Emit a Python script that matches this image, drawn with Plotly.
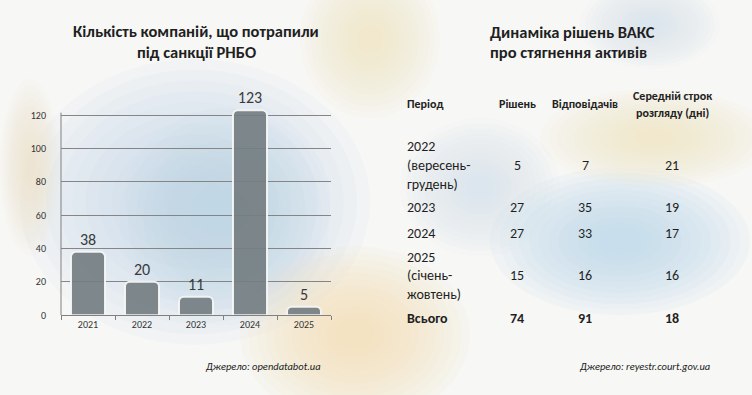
import plotly.graph_objects as go

# ---- data ----
years = ["2021", "2022", "2023", "2024", "2025"]
companies = [38, 20, 11, 123, 5]
y_tick_values = [0, 20, 40, 60, 80, 100, 120]

left_title = ["Кількість компаній, що потрапили", "під санкції РНБО"]
right_title = ["Динаміка рішень ВАКС", "про стягнення активів"]
left_source = "Джерело: opendatabot.ua"
right_source = "Джерело: reyestr.court.gov.ua"

table_headers = ["Період", "Рішень", "Відповідачів", "Середній строк<br>розгляду (дні)"]
table_periods = ["2022<br>(вересень-<br>грудень)", "2023", "2024", "2025<br>(січень-<br>жовтень)", "Всього"]
decisions = [5, 27, 27, 15, 74]
respondents = [7, 35, 33, 16, 91]
avg_days = [21, 19, 17, 16, 18]

# ---- layout helpers ----
W, H = 752, 395
FONT = "Carlito, Lato, 'Noto Sans', sans-serif"


def px(x):
    return x / W


def py(y):
    return 1 - y / H


fig = go.Figure()

fig.add_trace(go.Bar(
    x=years, y=companies,
    text=[str(v) for v in companies], textposition="outside",
    textfont=dict(size=16, color="#3a3a3a", family=FONT),
    marker=dict(color="rgba(116,126,130,0.92)",
                line=dict(color="rgba(245,245,245,0.95)", width=2),
                cornerradius=5),
    cliponaxis=False, hoverinfo="skip",
))

# y-range so that 0 -> 320px and 120 -> 117px
unit = (320 - 117) / 120
top_val = 140
top_px = 320 - top_val * unit
axis_top = 121.5

fig.update_layout(
    width=W, height=H,
    margin=dict(l=0, r=0, t=0, b=0),
    paper_bgcolor="#f7f7f5",
    plot_bgcolor="rgba(0,0,0,0)",
    showlegend=False,
    bargap=0.37,
    font=dict(family=FONT, color="#333333"),
    xaxis=dict(domain=[px(61), px(331)], showline=True, linecolor="#808080", linewidth=1,
               ticks="outside", tickson="boundaries", ticklen=4, tickcolor="#808080",
               tickfont=dict(size=10, color="#333333"), showgrid=False, fixedrange=True),
    yaxis=dict(domain=[py(320), py(top_px)], range=[0, top_val], tickvals=y_tick_values,
               showline=False,
               showgrid=True, gridcolor="#858585", gridwidth=1, zeroline=False,
               tickfont=dict(size=10, color="#333333"), ticklabelstandoff=14, fixedrange=True),
)

# y axis line (stops just above the 120 gridline)
fig.add_shape(type="line", xref="x domain", yref="y", x0=0, x1=0, y0=0, y1=axis_top,
              line=dict(color="#808080", width=1))

# soft background patches (blurred flag-like backdrop), built from stacked faint ellipses
patches = [
    (20, 60, 370, 350, (192, 216, 238), 0.10),
    (120, 110, 330, 330, (186, 210, 234), 0.075),
    (490, 170, 750, 320, (190, 214, 238), 0.10),
    (400, 120, 560, 260, (200, 216, 234), 0.06),
    (580, -20, 720, 70, (200, 218, 238), 0.06),
    (240, 250, 470, 430, (246, 226, 170), 0.085),
    (300, -40, 440, 120, (244, 226, 180), 0.07),
    (540, 90, 770, 190, (246, 228, 178), 0.07),
    (0, 80, 60, 260, (244, 228, 180), 0.06),
]
for x0, y0, x1, y1, (r, g, b), a in patches:
    cx, cy = (x0 + x1) / 2, (y0 + y1) / 2
    hw, hh = (x1 - x0) / 2, (y1 - y0) / 2
    for k in range(12):
        s = 1 - k * 0.075
        fig.add_shape(type="circle", xref="paper", yref="paper",
                      x0=px(cx - hw * s), x1=px(cx + hw * s),
                      y0=py(cy + hh * s), y1=py(cy - hh * s),
                      fillcolor=f"rgba({r},{g},{b},{a})", line=dict(width=0), layer="below")

# titles
for j, line in enumerate(left_title):
    fig.add_annotation(text="<b>" + line + "</b>", xref="paper", yref="paper",
                       x=px(196), y=py(31 + 22 * j), xanchor="center", yanchor="middle",
                       showarrow=False, font=dict(size=16.5, color="#1f1f1f", family=FONT))
for j, line in enumerate(right_title):
    fig.add_annotation(text="<b>" + line + "</b>", xref="paper", yref="paper",
                       x=px(488), y=py(32 + 21 * j), xanchor="left", yanchor="middle",
                       showarrow=False, font=dict(size=16.5, color="#1f1f1f", family=FONT))

# sources
fig.add_annotation(text="<i>" + left_source + "</i>", xref="paper", yref="paper",
                   x=px(323), y=py(372), xanchor="right", yanchor="middle", showarrow=False,
                   font=dict(size=10.5, color="#222222", family=FONT))
fig.add_annotation(text="<i>" + right_source + "</i>", xref="paper", yref="paper",
                   x=px(712), y=py(372), xanchor="right", yanchor="middle", showarrow=False,
                   font=dict(size=10.5, color="#222222", family=FONT))

# table
col_x = [405, 517, 585, 672]
header_y = 106
row_y = [168, 211, 237, 280, 323]
line_gap = 19

for i, h in enumerate(table_headers):
    parts = h.split("<br>")
    for j, p in enumerate(parts):
        yy = header_y + (j - (len(parts) - 1) / 2) * 18
        fig.add_annotation(text="<b>" + p + "</b>", xref="paper", yref="paper",
                           x=px(col_x[i]), y=py(yy),
                           xanchor="left" if i == 0 else "center", yanchor="middle",
                           showarrow=False, font=dict(size=12, color="#222222", family=FONT))

n = len(table_periods)
for r in range(n):
    bold = r == n - 1
    vals = [table_periods[r], str(decisions[r]), str(respondents[r]), str(avg_days[r])]
    for i, v in enumerate(vals):
        parts = v.split("<br>")
        for j, p in enumerate(parts):
            yy = row_y[r] + (j - (len(parts) - 1) / 2) * line_gap
            t = "<b>" + p + "</b>" if bold else p
            fig.add_annotation(text=t, xref="paper", yref="paper",
                               x=px(col_x[i]), y=py(yy),
                               xanchor="left" if i == 0 else "center", yanchor="middle",
                               showarrow=False, font=dict(size=14, color="#1f1f1f", family=FONT))

fig.write_html("out.html", config={"displayModeBar": False},
               post_script="document.body.style.margin='0';document.body.style.overflow='hidden';")
